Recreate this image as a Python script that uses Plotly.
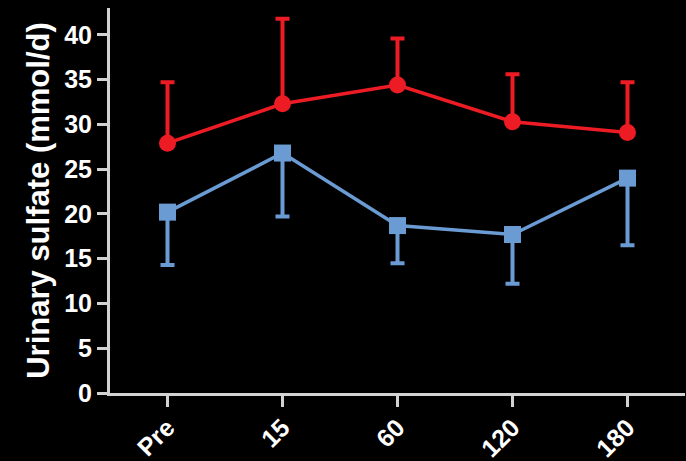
import plotly.graph_objects as go

# Time points and urinary sulfate means with one-sided SD bars
timepoints = ["Pre", "15", "60", "120", "180"]
red_mean = [27.9, 32.3, 34.4, 30.3, 29.1]
red_err_up = [6.8, 9.5, 5.2, 5.3, 5.6]
blue_mean = [20.2, 26.8, 18.7, 17.7, 24.0]
blue_err_down = [5.9, 7.1, 4.2, 5.5, 7.5]
y_ticks = [0, 5, 10, 15, 20, 25, 30, 35, 40]

RED = "#ED1C24"
BLUE = "#6A9BD3"
AXIS = "#D2D2D2"
FONT = "Liberation Sans, Arial, sans-serif"

fig = go.Figure()

fig.add_trace(go.Scatter(
    x=timepoints, y=blue_mean, mode="lines+markers",
    line=dict(color=BLUE, width=3.5),
    marker=dict(symbol="square", size=17, color=BLUE),
    error_y=dict(type="data", symmetric=False, array=[0] * len(blue_mean),
                 arrayminus=blue_err_down, color=BLUE, thickness=4, width=7),
    showlegend=False,
))

fig.add_trace(go.Scatter(
    x=timepoints, y=red_mean, mode="lines+markers",
    line=dict(color=RED, width=3.5),
    marker=dict(symbol="circle", size=17, color=RED),
    error_y=dict(type="data", symmetric=False, array=red_err_up,
                 arrayminus=[0] * len(red_mean), color=RED, thickness=4, width=7),
    showlegend=False,
))

fig.update_layout(
    width=686, height=461,
    paper_bgcolor="black", plot_bgcolor="black",
    margin=dict(l=110, r=1, t=8, b=68),
    font=dict(family=FONT, color="white"),
    xaxis=dict(
        type="category", range=[-0.5, 4.5], automargin=False,
        showline=True, linecolor=AXIS, linewidth=3,
        ticks="outside", tickcolor=AXIS, tickwidth=3, ticklen=11,
        tickangle=-45, showgrid=False, zeroline=False, ticklabelstandoff=-4,
        tickfont=dict(size=25, color="white", family=FONT, weight="bold"),
    ),
    yaxis=dict(
        range=[0, 43], tickvals=y_ticks, automargin=False,
        showline=True, linecolor=AXIS, linewidth=3,
        ticks="outside", tickcolor=AXIS, tickwidth=3, ticklen=10,
        showgrid=False, zeroline=False,
        tickfont=dict(size=25, color="white", family=FONT, weight="bold"),
        title=dict(text="Urinary sulfate (mmol/d)", standoff=6,
                   font=dict(size=31, color="white", family=FONT, weight="bold")),
    ),
)

fig.write_html("out.html")
